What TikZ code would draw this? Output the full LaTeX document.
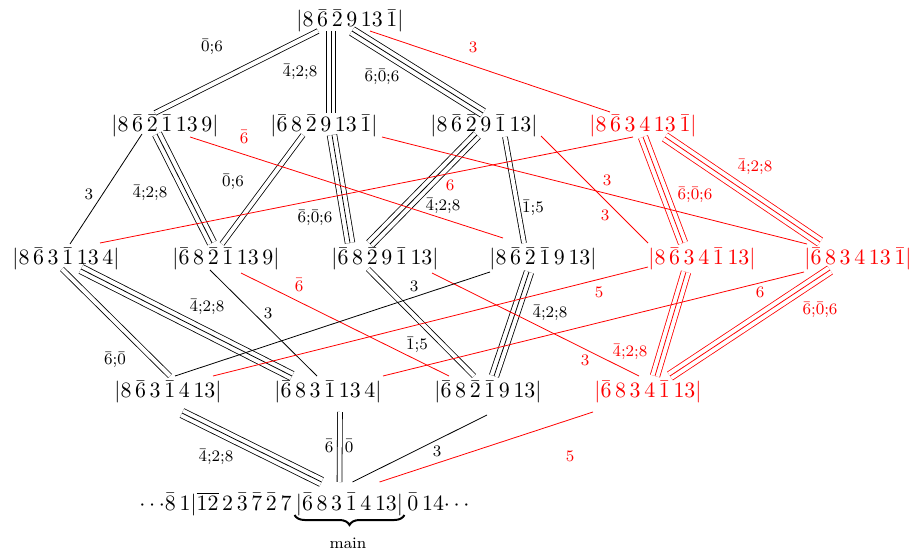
\documentclass[tikz,border=0pt]{standalone}
\usetikzlibrary{calc,decorations.pathreplacing}
\tikzset{
  x=0.5pt, y=-0.5pt,
  st/.style={anchor=base, inner sep=0pt, font=\fontsize{11}{13}\selectfont},
  rst/.style={st, text=red},
  lbl/.style={inner sep=0pt, font=\fontsize{8}{9.6}\selectfont},
  rlbl/.style={lbl, text=red},
  sgl/.style={draw=#1, line width=0.4pt},
  sgl/.default=black,
  dbl/.style={draw=#1, line width=0.4pt, double=white, double distance=2pt},
  dbl/.default=black,
  tri/.style={draw=#1, line width=0.4pt,
    preaction={draw=#1, line width=5.2pt},
    preaction={draw=white, line width=4.4pt}},
  tri/.default=black,
  bracestyle/.style={decorate, decoration={brace, mirror, amplitude=5pt}, line width=1pt},
}
\newcommand\lnk[5]{\draw[#1] ($(#2)+#3$) -- ($(#4)+#5$);}
\begin{document}
\begin{tikzpicture}
\useasboundingbox (0,0) rectangle (912,551);
% row 0
\node[st] (T) at (350,27) {$|8\,\bar6\,\bar2\,9\,13\,\bar1|$};
% row 1
\node[st] (A1) at (165,132) {$|8\,\bar6\,\bar2\,\bar1\,13\,9|$};
\node[st] (A2) at (324,132) {$|\bar6\,8\,\bar2\,9\,13\,\bar1|$};
\node[st] (A3) at (484,132) {$|8\,\bar6\,\bar2\,9\,\bar1\,13|$};
\node[rst] (A4) at (643,132) {$|8\,\bar6\,3\,4\,13\,\bar1|$};
% row 2
\node[st] (B1) at (66,265) {$|8\,\bar6\,3\,\bar1\,13\,4|$};
\node[st] (B2) at (226,265) {$|\bar6\,8\,\bar2\,\bar1\,13\,9|$};
\node[st] (B3) at (385,265) {$|\bar6\,8\,\bar2\,9\,\bar1\,13|$};
\node[st] (B4) at (543,265) {$|8\,\bar6\,\bar2\,\bar1\,9\,13|$};
\node[rst] (B5) at (702,265) {$|8\,\bar6\,3\,4\,\bar1\,13|$};
\node[rst] (B6) at (858,265) {$|\bar6\,8\,3\,4\,13\,\bar1|$};
% row 3
\node[st] (C1) at (168,398) {$|8\,\bar6\,3\,\bar1\,4\,13|$};
\node[st] (C2) at (328,398) {$|\bar6\,8\,3\,\bar1\,13\,4|$};
\node[st] (C3) at (488,398) {$|\bar6\,8\,\bar2\,\bar1\,9\,13|$};
\node[rst] (C4) at (648,398) {$|\bar6\,8\,3\,4\,\bar1\,13|$};
% bottom
\node[st] (M) at (349.5,510) {$|\bar6\,8\,3\,\bar1\,4\,13|$};
\node[st, anchor=base east] (L) at (M.base west) {${\cdots}\bar8\,1|\overline{12}\,2\,\bar3\,\bar7\,\bar2\,7\,$};
\node[st, anchor=base west] (R) at (M.base east) {$\,\bar0\,14{\cdots}$};
\coordinate (bl) at ($(M.base west)+(-1,5)$);
\coordinate (br) at ($(M.base east)+(1,5)$);
\draw[bracestyle] (bl) -- (br);
\node[lbl] (mainlbl) at (348,543) {main};
% multi-stroke edges
\lnk{dbl}{T.base}{(-32,4)}{A1.base}{(-10,-19)}
\lnk{tri}{T.base}{(-19,4)}{A2.base}{(7,-19)}
\lnk{tri}{T.base}{(2,4)}{A3.base}{(-1,-19)}
\lnk{tri}{A1.base}{(-8,2)}{B2.base}{(-14,-22)}
\lnk{dbl}{A2.base}{(-21,3)}{B2.base}{(-4,-21)}
\lnk{tri}{A2.base}{(8,3)}{B3.base}{(-35,-22)}
\lnk{tri}{A3.base}{(-7,3)}{B3.base}{(-15,-21)}
\lnk{dbl}{A3.base}{(21,5)}{B4.base}{(-19,-22)}
\lnk{tri=red}{A4.base}{(0,5)}{B5.base}{(-19,-22)}
\lnk{tri=red}{A4.base}{(22,5)}{B6.base}{(-38,-23)}
\lnk{dbl}{B1.base}{(-4,4)}{C1.base}{(2,-22)}
\lnk{tri}{B1.base}{(15,4)}{C2.base}{(-36,-22)}
\lnk{dbl}{B3.base}{(-17,4)}{C3.base}{(-14,-22)}
\lnk{tri}{B4.base}{(-14,7)}{C3.base}{(6,-22)}
\lnk{tri=red}{B5.base}{(-16,7)}{C4.base}{(7,-22)}
\lnk{tri=red}{B6.base}{(-28,5)}{C4.base}{(22,-22)}
\lnk{tri}{C1.base}{(14,15)}{M.base}{(-28,-28)}
\lnk{dbl}{C2.base}{(12,14)}{M.base}{(-10,-28)}
% single edges
\lnk{sgl=red}{T.base}{(20,4)}{A4.base}{(-33,-20)}
\lnk{sgl}{A1.base}{(-23,2)}{B1.base}{(4,-21)}
\lnk{sgl=red}{A3.base}{(57,4)}{B5.base}{(-54,-22)}
\lnk{sgl=red}{A4.base}{(-10,5)}{B1.base}{(34,-22)}
\lnk{sgl=red}{A1.base}{(25,5)}{B4.base}{(-40,-27)}
\lnk{sgl=red}{A2.base}{(58,5)}{B6.base}{(-51,-21)}
\lnk{sgl}{B2.base}{(-16,5)}{C2.base}{(-11,-22)}
\lnk{sgl=red}{B2.base}{(15,8)}{C3.base}{(-39,-22)}
\lnk{sgl=red}{B3.base}{(47,8)}{C4.base}{(-9,-22)}
\lnk{sgl}{B4.base}{(-53,7)}{C1.base}{(7,-22)}
\lnk{sgl=red}{B5.base}{(-54,2)}{C1.base}{(45,-22)}
\lnk{sgl=red}{B6.base}{(-54,7)}{C2.base}{(55,-22)}
\lnk{sgl}{C3.base}{(-1,17)}{M.base}{(3,-28)}
\lnk{sgl=red}{C4.base}{(-55,14)}{M.base}{(30,-28)}
% labels
\node[lbl] (l1) at (212,47) {$\bar0{;}6$};
\node[lbl] (l2) at (300,72) {$\bar4{;}2{;}8$};
\node[lbl] (l3) at (382,77) {$\bar6{;}\bar0{;}6$};
\node[rlbl] (l4) at (473,47) {$3$};
\node[rlbl] (l5) at (244,137) {$\bar6$};
\node[lbl] (l6) at (89,194) {$3$};
\node[lbl] (l7) at (150,193) {$\bar4{;}2{;}8$};
\node[lbl] (l8) at (233,182) {$\bar0{;}6$};
\node[lbl] (l9) at (315,218) {$\bar6{;}\bar0{;}6$};
\node[rlbl] (l10) at (450,185) {$6$};
\node[lbl] (l11) at (443,206) {$\bar4{;}2{;}8$};
\node[lbl] (l12) at (533,208) {$\bar1{;}5$};
\node[rlbl] (l13) at (607,180) {$3$};
\node[rlbl] (l14) at (605,215) {$3$};
\node[rlbl] (l15) at (695,195) {$\bar6{;}\bar0{;}6$};
\node[rlbl] (l16) at (755,167) {$\bar4{;}2{;}8$};
\node[lbl] (l17) at (115,360) {$\bar6{;}\bar0$};
\node[lbl] (l18) at (207,307) {$\bar4{;}2{;}8$};
\node[lbl] (l19) at (268,313) {$3$};
\node[rlbl] (l20) at (299,285) {$\bar6$};
\node[lbl] (l21) at (414,286) {$3$};
\node[lbl] (l22) at (417,345) {$\bar1{;}5$};
\node[lbl] (l23) at (550,313) {$\bar4{;}2{;}8$};
\node[rlbl] (l24) at (599,292) {$5$};
\node[rlbl] (l25) at (630,352) {$\bar4{;}2{;}8$};
\node[rlbl] (l26) at (585,360) {$3$};
\node[rlbl] (l27) at (760,292) {$6$};
\node[rlbl] (l28) at (820,310) {$\bar6{;}\bar0{;}6$};
\node[lbl] (l29) at (216,457) {$\bar4{;}2{;}8$};
\node[lbl] (l30) at (329,446) {$\bar6$};
\node[lbl] (l31) at (349,446) {$\bar0$};
\node[lbl] (l32) at (437,451) {$3$};
\node[rlbl] (l33) at (570,456) {$5$};
\end{tikzpicture}
\end{document}
